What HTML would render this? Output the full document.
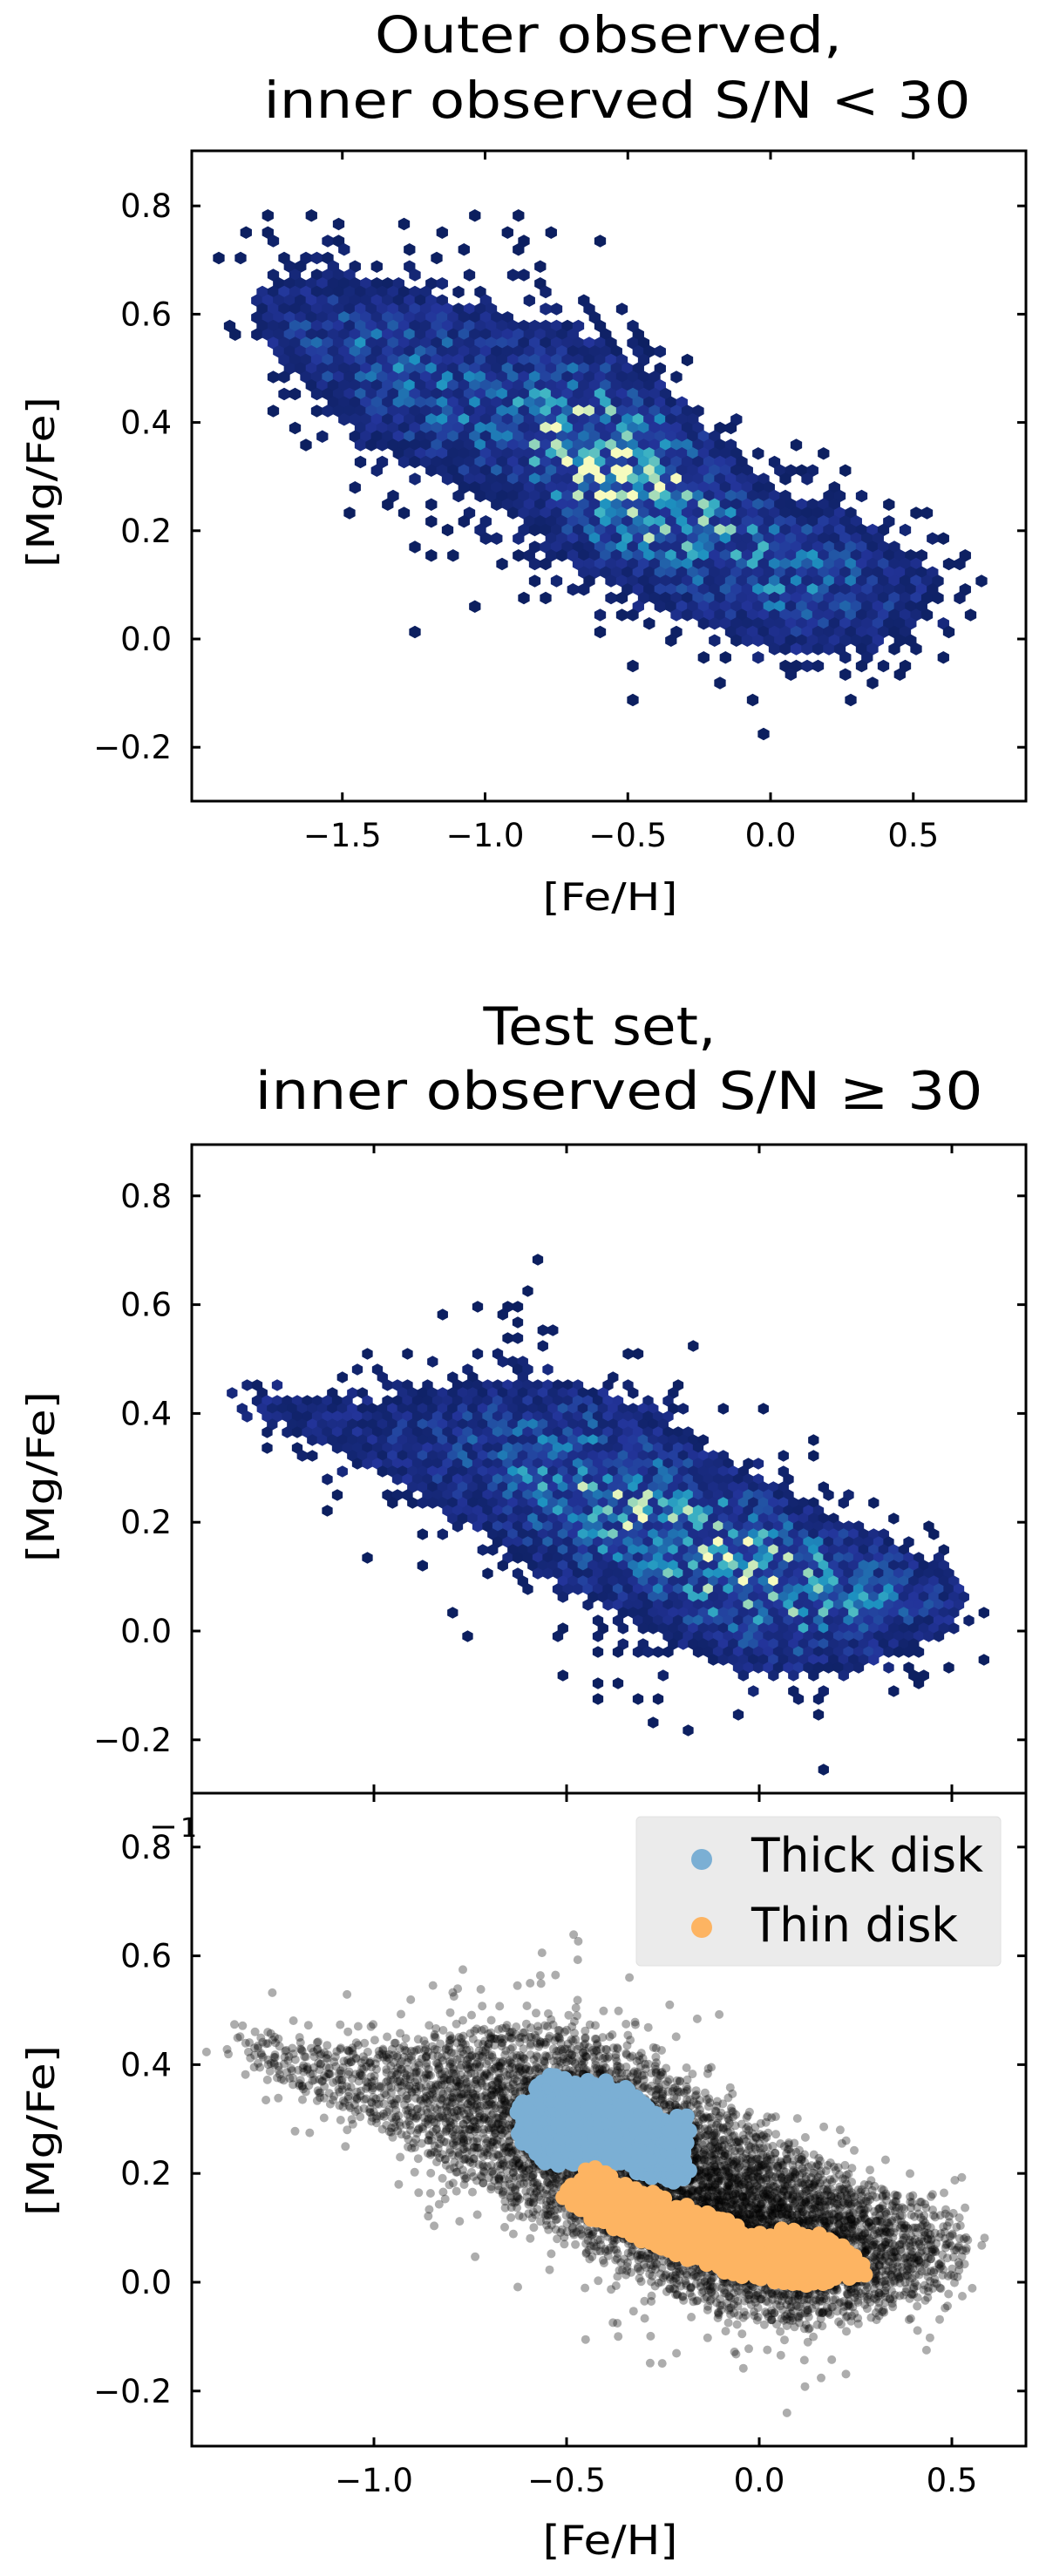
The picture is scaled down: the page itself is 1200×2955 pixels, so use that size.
<!DOCTYPE html>
<html><head><meta charset="utf-8"><style>
html,body{margin:0;padding:0;background:#fff;}
svg{display:block;}
text{font-family:"DejaVu Sans","Liberation Sans",sans-serif;fill:#000;}
</style></head><body>
<svg id="fig" width="1200" height="2955" viewBox="0 0 1200 2955" xmlns="http://www.w3.org/2000/svg">
<g id="gTop"></g>
<g id="gMid"></g>
<g id="gBot"></g>
<g id="gAxes"></g>
<text x="698" y="60" font-size="58" text-anchor="middle" textLength="536" lengthAdjust="spacingAndGlyphs">Outer observed,</text>
<text x="708" y="135" font-size="58" text-anchor="middle" textLength="811" lengthAdjust="spacingAndGlyphs">inner observed S/N &lt; 30</text>
<text x="688" y="1198" font-size="60" text-anchor="middle" textLength="267" lengthAdjust="spacingAndGlyphs">Test set,</text>
<text x="710" y="1272" font-size="60" text-anchor="middle" textLength="835" lengthAdjust="spacingAndGlyphs">inner observed S/N  ≥  30</text>
<text x="700" y="1044" font-size="44" text-anchor="middle" textLength="155" lengthAdjust="spacingAndGlyphs">[Fe/H]</text>
<text x="700" y="2930" font-size="46" text-anchor="middle" textLength="155" lengthAdjust="spacingAndGlyphs">[Fe/H]</text>
<text transform="translate(62,553) rotate(-90)" font-size="44" text-anchor="middle" textLength="196" lengthAdjust="spacingAndGlyphs">[Mg/Fe]</text>
<text transform="translate(62,1694) rotate(-90)" font-size="44" text-anchor="middle" textLength="196" lengthAdjust="spacingAndGlyphs">[Mg/Fe]</text>
<text transform="translate(62,2444) rotate(-90)" font-size="44" text-anchor="middle" textLength="196" lengthAdjust="spacingAndGlyphs">[Mg/Fe]</text>
<g>
<rect x="730" y="2084" width="418" height="171" rx="5" fill="#ebebeb" stroke="#e0e0e0"/>
<circle cx="805" cy="2133" r="12" fill="#7bafd4"/>
<text x="862" y="2147" font-size="54" textLength="266" lengthAdjust="spacingAndGlyphs">Thick disk</text>
<circle cx="805" cy="2211" r="12" fill="#fdb462"/>
<text x="862" y="2227" font-size="54" textLength="237" lengthAdjust="spacingAndGlyphs">Thin disk</text>
</g>
<g>
<line x1="175" y1="2096" x2="200" y2="2096" stroke="#000" stroke-width="3"/>
<text x="207" y="2107" font-size="30">1</text>
</g>
</svg>
<script>
// ---- data arrays ----
const yTicks = [-0.2, 0.0, 0.2, 0.4, 0.6, 0.8];
const yTickLabels = ["−0.2", "0.0", "0.2", "0.4", "0.6", "0.8"];
const topXTicks = [-1.5, -1.0, -0.5, 0.0, 0.5];
const topXTickLabels = ["−1.5", "−1.0", "−0.5", "0.0", "0.5"];
const botXTicks = [-1.0, -0.5, 0.0, 0.5];
const botXTickLabels = ["−1.0", "−0.5", "0.0", "0.5"];

// outer sample ridge: [Fe/H] knots, [Mg/Fe] ridge, spread, relative density
const topFeh = [-1.95, -1.8, -1.5, -1.2, -0.9, -0.6, -0.4, -0.2, 0.0, 0.3, 0.55, 0.8];
const topMgCenter = [0.66, 0.61, 0.54, 0.47, 0.41, 0.33, 0.27, 0.20, 0.13, 0.10, 0.09, 0.08];
const topSpread = [0.04, 0.07, 0.10, 0.115, 0.12, 0.12, 0.12, 0.11, 0.10, 0.085, 0.07, 0.04];
const topDensity = [0.0, 0.18, 0.42, 0.45, 0.48, 0.85, 0.8, 0.58, 0.52, 0.42, 0.18, 0.0];

// test sample ridge
const midFeh = [-1.45, -1.3, -1.0, -0.7, -0.5, -0.3, -0.1, 0.1, 0.3, 0.5, 0.62];
const midMgCenter = [0.45, 0.42, 0.36, 0.32, 0.27, 0.21, 0.13, 0.08, 0.06, 0.06, 0.07];
const midSpread = [0.025, 0.04, 0.075, 0.11, 0.12, 0.12, 0.11, 0.095, 0.08, 0.06, 0.03];
const midDensity = [0.0, 0.18, 0.22, 0.38, 0.58, 0.65, 0.72, 0.7, 0.48, 0.22, 0.0];

// clustered thick / thin disk regions
const thickFeh = [-0.62, -0.55, -0.45, -0.35, -0.25, -0.18];
const thickTop = [0.33, 0.38, 0.37, 0.36, 0.31, 0.31];
const thickBottom = [0.27, 0.22, 0.22, 0.22, 0.19, 0.19];
const thinFeh = [-0.5, -0.42, -0.3, -0.15, 0.0, 0.15, 0.27];
const thinTop = [0.18, 0.21, 0.17, 0.13, 0.09, 0.09, 0.04];
const thinBottom = [0.15, 0.12, 0.08, 0.04, 0.01, 0.0, 0.02];

// ---- helpers ----
const NS = "http://www.w3.org/2000/svg";
function mk(tag, attrs, parent){const e=document.createElementNS(NS,tag);for(const k in attrs)e.setAttribute(k,attrs[k]);parent.appendChild(e);return e;}
function interp(xs, ys, x, outside){
  if(x<=xs[0]||x>=xs[xs.length-1]) return outside===undefined?(x<=xs[0]?ys[0]:ys[ys.length-1]):outside;
  for(let i=0;i<xs.length-1;i++){if(x>=xs[i]&&x<=xs[i+1]){const t=(x-xs[i])/(xs[i+1]-xs[i]);return ys[i]+t*(ys[i+1]-ys[i]);}}
  return 0;
}
function hash(a,b,c){let h=(a*374761393+b*668265263+c*2147483647)|0;h=(h^(h>>>13))*1274126177|0;h=h^(h>>>16);return ((h>>>0)%100000)/100000;}
const stops=[[0,[12,31,95]],[0.25,[35,52,154]],[0.45,[34,94,168]],[0.62,[29,145,192]],[0.77,[65,182,196]],[0.9,[160,218,185]],[1,[246,251,190]]];
function cmap(v){v=Math.max(0,Math.min(1,v));for(let i=0;i<stops.length-1;i++){if(v<=stops[i+1][0]){const t=(v-stops[i][0])/(stops[i+1][0]-stops[i][0]);const a=stops[i][1],b=stops[i+1][1];return `rgb(${Math.round(a[0]+t*(b[0]-a[0]))},${Math.round(a[1]+t*(b[1]-a[1]))},${Math.round(a[2]+t*(b[2]-a[2]))})`;}}return "rgb(246,251,190)";}

// axes definitions
const topAx={L:220,R:1177,T:173,B:919,x:v=>884+327.5*v,y:v=>733-621*v,ix:p=>(p-884)/327.5,iy:p=>(733-p)/621};
const midAx={L:220,R:1177,T:1313,B:2057,x:v=>871+442*v,y:v=>1871-624*v,ix:p=>(p-871)/442,iy:p=>(1871-p)/624};
const botAx={L:220,R:1177,T:2057,B:2806,x:v=>871+442*v,y:v=>2618-624*v,ix:p=>(p-871)/442,iy:p=>(2618-p)/624};

function dens(feh, cen, spr, den, x, y){
  const d=interp(feh,den,x,0); if(d<=0) return 0;
  const c=interp(feh,cen,x), s=interp(feh,spr,x);
  const z=(y-c)/s; return d*Math.exp(-0.5*z*z);
}
function hexPath(cx,cy,w,h){const hw=w/2,hh=h/2;return `M${cx},${cy-hh}L${cx+hw},${cy-hh/2}L${cx+hw},${cy+hh/2}L${cx},${cy+hh}L${cx-hw},${cy+hh/2}L${cx-hw},${cy-hh/2}Z`;}

function hexbin(g, ax, feh, cen, spr, den, seed, w, h, outl){
  let row=0;
  for(let py=ax.T+6; py<ax.B-4; py+=h*0.75, row++){
    let col=0;
    for(let px=ax.L+6+(row%2)*w/2; px<ax.R-4; px+=w, col++){
      const x=ax.ix(px), y=ax.iy(py);
      const c=dens(feh,cen,spr,den,x,y);
      const r1=hash(row,col,seed), r2=hash(col,row,seed+7);
      let show=c>0.16 || r1< Math.pow(c/0.16,0.8)*outl;
      if(!show) continue;
      const v=Math.pow(c,1.1)*(0.25+1.25*r2*r2+0.2*r2);
      const p=mk('path',{d:hexPath(+px.toFixed(1),+py.toFixed(1),w+0.8,h+1.5),fill:cmap(v)},g);
      
      
    }
  }
}
hexbin(document.getElementById('gTop'),topAx,topFeh,topMgCenter,topSpread,topDensity,11,12.5,13,0.42);
hexbin(document.getElementById('gMid'),midAx,midFeh,midMgCenter,midSpread,midDensity,23,11.5,12,0.3);

// bottom scatter
const gB=document.getElementById('gBot');
(function(){
  let row=0;
  for(let py=botAx.T+4; py<botAx.B; py+=7, row++){
    let col=0;
    for(let px=botAx.L+4+(row%2)*4; px<botAx.R; px+=8, col++){
      const x=botAx.ix(px), y=botAx.iy(py);
      const c=dens(midFeh,midMgCenter,midSpread,midDensity,x,y);
      const r1=hash(row,col,5);
      const n=c>0.14? Math.floor(c*6+r1*1.5) : (r1<Math.pow(c/0.14,0.8)*0.2?1:0);
      for(let k=0;k<n;k++){
        const jx=(hash(row,col,100+k)-0.5)*10, jy=(hash(col,row,200+k)-0.5)*10;
        const p=mk('circle',{cx:(px+jx).toFixed(1),cy:(py+jy).toFixed(1),r:5,fill:'#000','fill-opacity':0.32},gB);
        
        
      }
    }
  }
  function region(feh,top,bot,color,name,seed){
    let i=0;
    for(let x=feh[0]; x<=feh[feh.length-1]; x+=0.012, i++){
      const t=interp(feh,top,x), b=interp(feh,bot,x);
      let j=0;
      for(let y=b; y<=t; y+=0.012, j++){
        const jx=(hash(i,j,seed)-0.5)*10, jy=(hash(j,i,seed)-0.5)*10;
        const p=mk('circle',{cx:(botAx.x(x)+jx).toFixed(1),cy:(botAx.y(y)+jy).toFixed(1),r:9,fill:color},gB);
        
        
      }
    }
  }
  region(thickFeh,thickTop,thickBottom,'#7bafd4','thick-disk-point',41);
  region(thinFeh,thinTop,thinBottom,'#fdb462','thin-disk-point',53);
})();

// axes frames, ticks, labels
const gA=document.getElementById('gAxes');
function axes(ax,xt,xl,showX,name){
  const r=mk('rect',{x:ax.L,y:ax.T,width:ax.R-ax.L,height:ax.B-ax.T,fill:'none',stroke:'#000','stroke-width':3},gA);
  
  
  yTicks.forEach((v,i)=>{
    const y=ax.y(v);
    mk('line',{x1:ax.L,x2:ax.L+10,y1:y,y2:y,stroke:'#000','stroke-width':3},gA);
    mk('line',{x1:ax.R,x2:ax.R-10,y1:y,y2:y,stroke:'#000','stroke-width':3},gA);
    const t=mk('text',{x:197,y:y+13,'font-size':37,'text-anchor':'end'},gA);
    t.textContent=yTickLabels[i];
    
    
  });
  xt.forEach((v,i)=>{
    const x=ax.x(v);
    mk('line',{x1:x,x2:x,y1:ax.B,y2:ax.B-10,stroke:'#000','stroke-width':3},gA);
    mk('line',{x1:x,x2:x,y1:ax.T,y2:ax.T+10,stroke:'#000','stroke-width':3},gA);
    if(showX){
      const t=mk('text',{x:x,y:ax.B+52,'font-size':37,'text-anchor':'middle'},gA);
      t.textContent=xl[i];
      
      
    }
  });
}
axes(topAx,topXTicks,topXTickLabels,true,'top');
axes(midAx,botXTicks,botXTickLabels,false,'mid');
axes(botAx,botXTicks,botXTickLabels,true,'bottom');
</script>
</body></html>
